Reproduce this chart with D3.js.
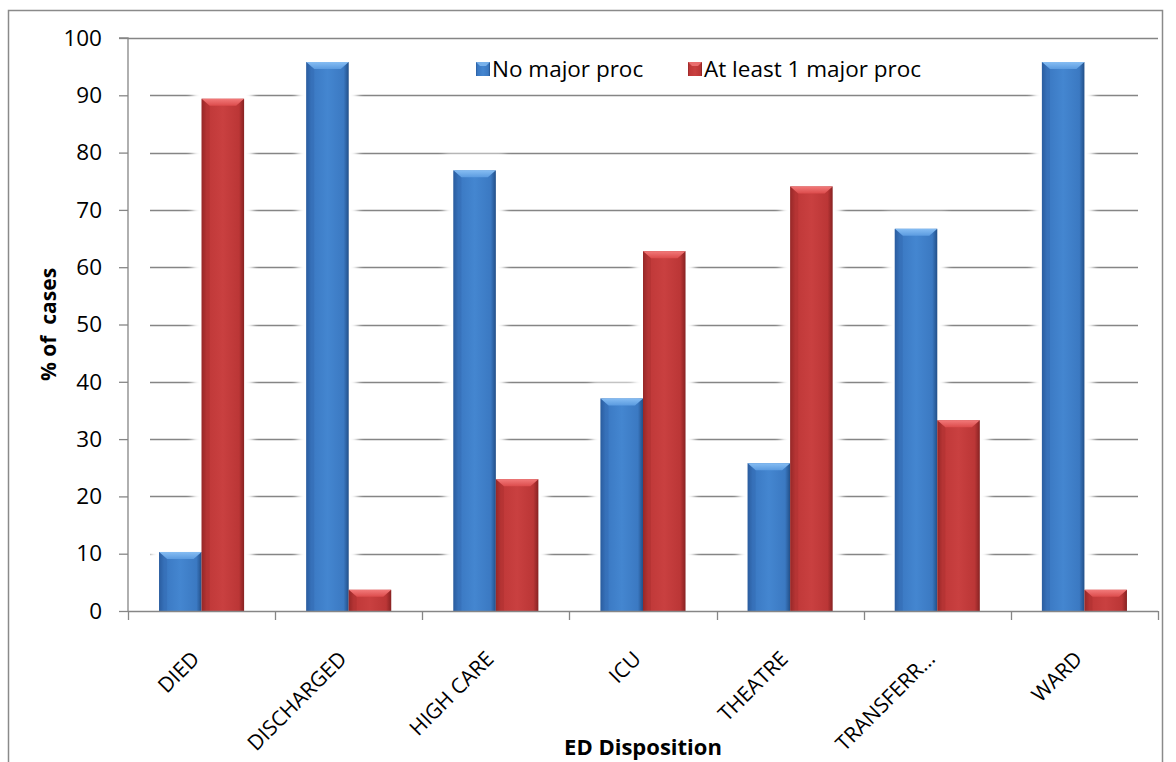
<!DOCTYPE html>
<html>
<head>
<meta charset="utf-8">
<script src="https://cdn.jsdelivr.net/npm/d3@7/dist/d3.min.js"></script>
<style>
  html, body { margin: 0; padding: 0; background: #fff; }
  svg { display: block; }
  text { font-family: "Open Sans", "Noto Sans", sans-serif; fill: #000; }
</style>
</head>
<body>
<svg id="chart" width="1176" height="762"></svg>
<script>
const categories = ["DIED", "DISCHARGED", "HIGH CARE", "ICU", "THEATRE", "TRANSFERR...", "WARD"];
const seriesNames = ["No major proc", "At least 1 major proc"];
const noMajorProc = [10.3, 95.8, 76.9, 37.1, 25.8, 66.7, 95.8];
const atLeastOneMajorProc = [89.4, 3.7, 23.0, 62.8, 74.1, 33.3, 3.7];
const yTicks = [0, 10, 20, 30, 40, 50, 60, 70, 80, 90, 100];
const yTitle = "% of\u00a0 cases";
const xTitle = "ED Disposition";

const seriesValues = [noMajorProc, atLeastOneMajorProc];
const svg = d3.select("#chart");
const defs = svg.append("defs");

const plot = { left: 128, right: 1158, top: 38, bottom: 611 };

const x0 = d3.scaleBand().domain(categories).range([plot.left, plot.right]).paddingInner(0).paddingOuter(0);
const x1 = d3.scaleBand().domain(seriesNames).range([0, x0.bandwidth()]).paddingInner(0).paddingOuter(0.73);
const y = d3.scaleLinear().domain([0, 100]).range([plot.bottom, plot.top]);

// Gradients
const palettes = [
  { id: "blue", stops: ["#2a5d9f", "#3a78c2", "#4486d0", "#3b79c2", "#224f88"], top: ["#86bdf3", "#5b9be0"] },
  { id: "red", stops: ["#962828", "#bf3838", "#c94040", "#bb3636", "#872222"], top: ["#f27a7a", "#dc4c4c"] }
];
palettes.forEach(p => {
  const g = defs.append("linearGradient").attr("id", "g-" + p.id).attr("x1", "0").attr("x2", "1").attr("y1", "0").attr("y2", "0");
  [0, 0.12, 0.5, 0.88, 1].forEach((o, i) => g.append("stop").attr("offset", o).attr("stop-color", p.stops[i]));
  const t = defs.append("linearGradient").attr("id", "t-" + p.id).attr("x1", "0").attr("x2", "0").attr("y1", "0").attr("y2", "1");
  t.append("stop").attr("offset", 0).attr("stop-color", p.top[0]);
  t.append("stop").attr("offset", 1).attr("stop-color", p.top[1]);
});
const blur = defs.append("filter").attr("id", "halo").attr("x", "-50%").attr("y", "-20%").attr("width", "200%").attr("height", "140%");
blur.append("feGaussianBlur").attr("stdDeviation", 3);

// Outer frame
svg.append("rect").attr("x", 8.5).attr("y", 10.5).attr("width", 1154).attr("height", 760)
  .attr("fill", "none").attr("stroke", "#8a8a8a").attr("stroke-width", 1.5);

// Gridlines
const gridG = svg.append("g");
yTicks.filter(t => t > 0).forEach(t => {
  const full = t === 100;
  gridG.append("line")
    .attr("x1", full ? plot.left : 150).attr("x2", full ? plot.right : 1138)
    .attr("y1", Math.round(y(t)) + 0.5).attr("y2", Math.round(y(t)) + 0.5)
    .attr("stroke", "#858585").attr("stroke-width", 1.4);
});

// Data rows
const rows = categories.map((c, i) => ({ cat: c, vals: seriesNames.map((s, j) => ({ s, j, v: seriesValues[j][i] })) }));

// Halo behind bars (white glow that interrupts gridlines)
const haloG = svg.append("g").attr("filter", "url(#halo)");
rows.forEach(r => r.vals.forEach(d => {
  const bx = x0(r.cat) + x1(d.s), w = x1.bandwidth();
  haloG.append("rect").attr("x", bx - 9).attr("y", y(d.v) - 16).attr("width", w + 18).attr("height", plot.bottom - y(d.v) + 16)
    .attr("fill", "#fff");
}));

// Bars
const barG = svg.append("g");
rows.forEach(r => r.vals.forEach(d => {
  const p = palettes[d.j];
  const bx = x0(r.cat) + x1(d.s), w = x1.bandwidth();
  const top = y(d.v), h = plot.bottom - top;
  const g = barG.append("g");
  g.append("rect").attr("x", bx).attr("y", top).attr("width", w).attr("height", h).attr("fill", `url(#g-${p.id})`);
  const bev = Math.min(7, h);
  g.append("path")
    .attr("d", `M${bx},${top}L${bx + w},${top}L${bx + w - 8},${top + bev}L${bx + 8},${top + bev}Z`)
    .attr("fill", `url(#t-${p.id})`);
  g.append("path")
    .attr("d", `M${bx},${top}L${bx + 8},${top + bev}L${bx + 8},${top + h}L${bx},${top + h}Z`)
    .attr("fill", p.stops[0]).attr("opacity", 0.25);
}));

// Y axis
const yAxisG = svg.append("g").attr("transform", `translate(${plot.left},0)`)
  .call(d3.axisLeft(y).tickValues(yTicks).tickSize(9).tickPadding(17).tickFormat(d3.format("d")));
yAxisG.select(".domain").attr("stroke", "#868686").attr("stroke-width", 1.3).attr("d", `M-9,${plot.top}H0V${plot.bottom}`);
yAxisG.selectAll(".tick line").attr("stroke", "#868686").attr("stroke-width", 1.3);
yAxisG.selectAll(".tick text").style("font-family", "'Open Sans', sans-serif").style("font-size", "22.5px").attr("fill", "#000");

// X axis
const xAxisG = svg.append("g").attr("transform", `translate(0,${plot.bottom})`);
xAxisG.append("line").attr("x1", plot.left).attr("x2", plot.right).attr("y1", 0.5).attr("y2", 0.5)
  .attr("stroke", "#868686").attr("stroke-width", 1.3);
const boundaries = categories.map(c => x0(c)).concat([x0(categories[categories.length - 1]) + x0.bandwidth()]);
boundaries.forEach(bx => {
  xAxisG.append("line").attr("x1", Math.round(bx) + 0.5).attr("x2", Math.round(bx) + 0.5).attr("y1", 0).attr("y2", 9)
    .attr("stroke", "#868686").attr("stroke-width", 1.3);
});
categories.forEach(c => {
  const cx = x0(c) + x0.bandwidth() / 2;
  xAxisG.append("text")
    .attr("transform", `translate(${cx - 6},${44}) rotate(-45)`)
    .attr("text-anchor", "end").attr("dy", "0.35em")
    .style("font-size", "21px").text(c);
});

// Axis titles
svg.append("text").attr("transform", `translate(56,${(plot.top + plot.bottom) / 2}) rotate(-90)`)
  .attr("text-anchor", "middle").style("font-size", "21px").style("font-weight", "bold").text(yTitle);
svg.append("text").attr("x", 643).attr("y", 755).attr("text-anchor", "middle")
  .style("font-size", "22px").style("font-weight", "bold").text(xTitle);

// Legend
const legend = svg.append("g");
const legendItems = [{ name: seriesNames[0], p: palettes[0], x: 476 }, { name: seriesNames[1], p: palettes[1], x: 688 }];
legendItems.forEach(it => {
  legend.append("rect").attr("x", it.x).attr("y", 62).attr("width", 14).attr("height", 14).attr("fill", `url(#g-${it.p.id})`);
  legend.append("path").attr("d", `M${it.x},62L${it.x + 14},62L${it.x + 10},66L${it.x + 4},66Z`).attr("fill", it.p.top[0]).attr("opacity", 0.8);
  legend.append("text").attr("x", it.x + 16).attr("y", 69).attr("dy", "0.35em").style("font-size", "22.5px").text(it.name);
});
</script>
</body>
</html>
